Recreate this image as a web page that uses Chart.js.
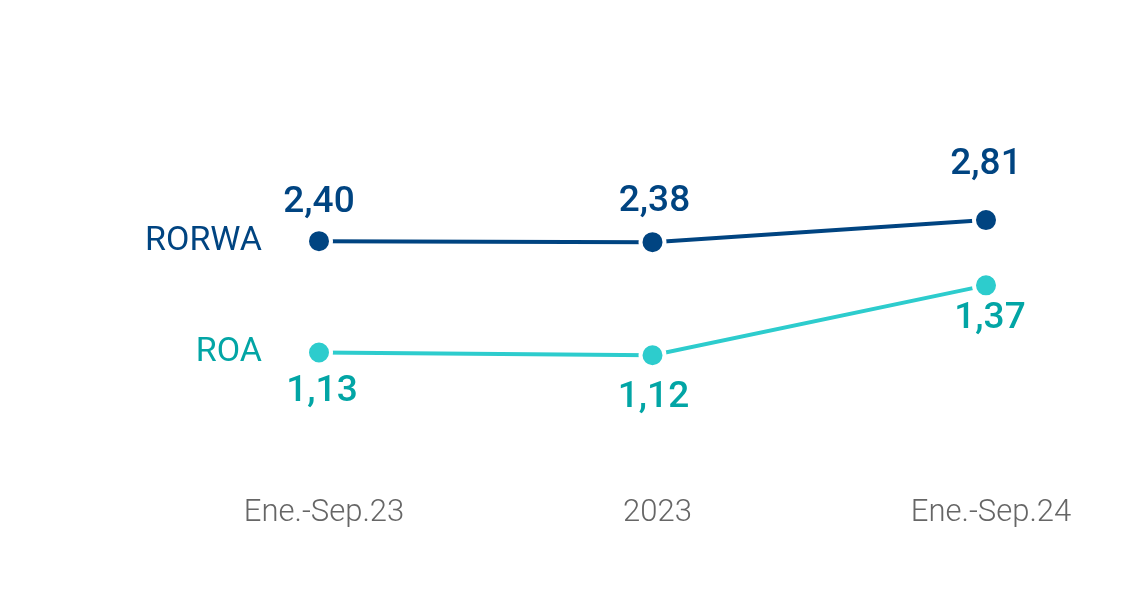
<!DOCTYPE html>
<html>
<head>
<meta charset="utf-8">
<script src="https://cdn.jsdelivr.net/npm/chart.js@4"></script>
<style>
  html, body { margin: 0; padding: 0; background: #fff; }
  #wrap { width: 1147px; height: 594px; position: relative; }
</style>
</head>
<body>
<div id="wrap"><canvas id="chart"></canvas></div>
<script>
  // ── Datos ────────────────────────────────────────────────────────────────
  const categories = ["Ene.-Sep.23", "2023", "Ene.-Sep.24"];
  const rorwaValues = [2.40, 2.38, 2.81];
  const roaValues   = [1.13, 1.12, 1.37];
  const seriesNames = ["RORWA", "ROA"];

  const NAVY      = "#004481";
  const TEAL      = "#2dcccd";
  const TEAL_TEXT = "#02a5a5";
  const GRAY      = "#666666";

  const fmt = v => v.toFixed(2).replace(".", ",");

  // Etiquetas de valor y nombre de serie
  const labelPlugin = {
    id: "labels",
    afterDatasetsDraw(chart) {
      const ctx = chart.ctx;
      const cfg = [
        { meta: chart.getDatasetMeta(0), values: rorwaValues, color: NAVY,      dy: [-38, -40, -55], dx: [0, 2, 0] },
        { meta: chart.getDatasetMeta(1), values: roaValues,   color: TEAL_TEXT, dy: [39, 42, 33],    dx: [3, 1, 4] },
      ];
      ctx.save();
      ctx.textBaseline = "middle";
      cfg.forEach((s, si) => {
        ctx.fillStyle = s.color;
        ctx.textAlign = "center";
        ctx.font = "500 37px Roboto, 'Open Sans', sans-serif";
        s.meta.data.forEach((pt, i) => {
          ctx.fillText(fmt(s.values[i]), pt.x + s.dx[i], pt.y + s.dy[i]);
        });
        // nombre de la serie a la izquierda
        const first = s.meta.data[0];
        ctx.font = "400 34px Roboto, 'Open Sans', sans-serif";
        ctx.textAlign = "right";
        ctx.fillText(seriesNames[si], first.x - 57, first.y);
      });
      ctx.restore();
    },
  };

  new Chart(document.getElementById("chart"), {
    type: "line",
    data: {
      labels: categories,
      datasets: [
        {
          label: seriesNames[0],
          data: rorwaValues,
          yAxisID: "yR",
          borderColor: NAVY,
          backgroundColor: NAVY,
          borderWidth: 4,
          pointRadius: 12,
          pointBorderWidth: 4,
          pointBorderColor: "#fff",
          pointBackgroundColor: NAVY,
          tension: 0,
        },
        {
          label: seriesNames[1],
          data: roaValues,
          yAxisID: "yA",
          borderColor: TEAL,
          backgroundColor: TEAL,
          borderWidth: 4,
          pointRadius: 12,
          pointBorderWidth: 4,
          pointBorderColor: "#fff",
          pointBackgroundColor: TEAL,
          tension: 0,
        },
      ],
    },
    options: {
      responsive: true,
      maintainAspectRatio: false,
      animation: false,
      layout: { padding: { left: 319, right: 161, top: 60, bottom: 48 } },
      plugins: {
        legend: { display: false },
        tooltip: { enabled: false },
      },
      scales: {
        x: {
          offset: false,
          grid: { display: false, drawTicks: false },
          border: { display: false },
          ticks: {
            color: GRAY,
            padding: 14,
            labelOffset: 5,
            font: { family: "Roboto, 'Open Sans', sans-serif", size: 31, weight: "300" },
          },
        },
        yR: { display: false, min: -2.27, max: 5.93 },
        yA: { display: false, min: 0.671, max: 2.176 },
      },
    },
    plugins: [labelPlugin],
  });
</script>
</body>
</html>
